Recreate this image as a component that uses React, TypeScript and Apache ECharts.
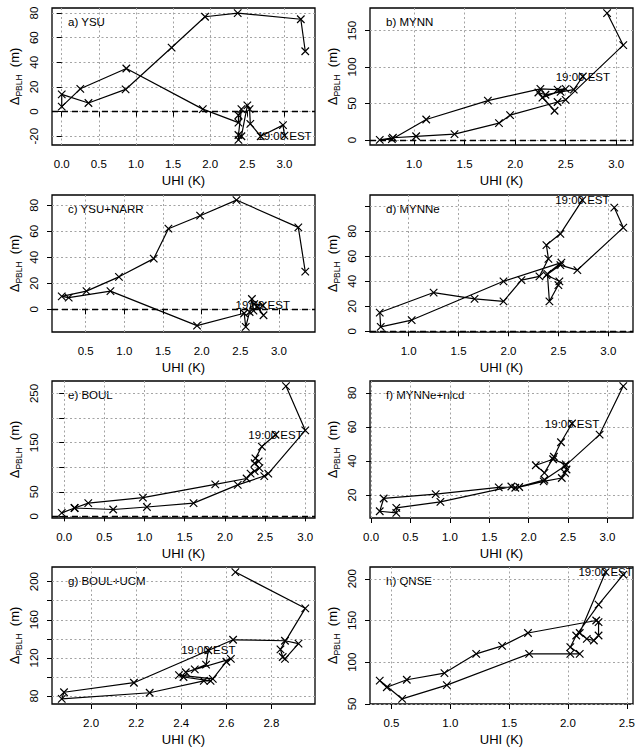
import React, { useEffect, useRef } from "react";
import * as echarts from "echarts";

const FONT = "'Liberation Sans', Arial, Helvetica, sans-serif";

const panelTitles = ["a) YSU", "b) MYNN", "c) YSU+NARR", "d) MYNNe", "e) BOUL", "f) MYNNe+nlcd", "g) BOUL+UCM", "h) QNSE"];
const startLabel = "19:00 EST";

// Trajectories (first point = 19:00 EST). UHI in K, ΔPBLH in m.
const uhiA = [3.00, 2.98, 2.68, 2.54, 2.53, 2.50, 2.42, 2.38, 2.38, 2.42, 2.38, 2.38, 1.90, 0.87, 0.25, 0.00, 0.00, 0.36, 0.86, 1.48, 1.93, 2.37, 3.22, 3.28];
const pblhA = [-19.5, -11, -20, -10, 2, 5, -20, -23, -19, 2, -3, -9, 2, 35, 18.5, 4, 14, 7, 18, 52, 77, 80, 75, 49];

const uhiB = [2.67, 2.58, 2.45, 2.30, 2.23, 2.39, 2.27, 2.50, 2.42, 2.25, 1.73, 1.12, 0.78, 0.66, 0.79, 1.02, 1.40, 1.84, 1.95, 2.42, 2.50, 3.07, 2.91];
const pblhB = [87, 69, 66, 62, 65, 40, 58, 70, 69, 70, 54, 28, 1, 0, 3, 5, 8, 23, 34, 52, 55, 130, 174];

const uhiC = [2.79, 2.68, 2.80, 2.72, 2.67, 2.65, 2.62, 2.57, 2.55, 1.94, 0.82, 0.28, 0.19, 0.51, 0.93, 1.38, 1.57, 1.98, 2.45, 3.25, 3.34];
const pblhC = [3, 4, -4.5, 2, -1, 8, -2, -13.5, -3, -12.5, 14, 9, 10, 14, 25, 39, 62, 72, 84, 63, 29];

const uhiD = [2.74, 2.52, 2.38, 2.40, 2.31, 2.13, 1.95, 1.66, 1.25, 0.71, 0.72, 1.03, 1.95, 2.53, 2.39, 2.41, 2.50, 2.51, 2.38, 2.52, 2.69, 3.15, 3.06];
const pblhD = [105, 78, 69, 58, 44, 41, 24, 26, 31, 15, 3.5, 9, 40, 55, 46, 24, 37, 40, 45, 53, 49, 83, 99];

const uhiE = [2.63, 2.46, 2.38, 2.42, 2.37, 2.43, 2.37, 2.32, 2.27, 1.88, 0.98, 0.30, 0.13, -0.03, 0.13, 0.61, 1.03, 1.61, 2.16, 2.49, 2.54, 3.00, 2.76];
const pblhE = [166, 142, 118, 112, 108, 98, 92, 87, 77, 65, 38, 27, 17, 7, 17, 14, 19, 27, 64, 82, 87, 175, 265];

const uhiF = [2.55, 2.41, 2.32, 2.20, 2.09, 2.31, 2.47, 2.48, 2.46, 2.42, 2.19, 1.88, 1.62, 0.82, 0.16, 0.11, 0.32, 0.32, 0.88, 1.78, 1.83, 2.20, 2.46, 2.90, 3.20];
const pblhF = [62, 51, 42.5, 33, 37.5, 41, 38, 35, 33, 30, 28, 24.7, 24.5, 20.5, 18, 10.5, 9.5, 12.5, 16, 25, 24.3, 29, 37, 55.5, 84];

const uhiG = [2.52, 2.51, 2.46, 2.42, 2.62, 2.60, 2.54, 2.39, 2.41, 2.53, 2.50, 2.26, 1.87, 1.88, 2.19, 2.63, 2.86, 2.92, 2.86, 2.85, 2.84, 2.95, 2.64];
const pblhG = [128, 113, 108, 105, 119, 116, 98, 102, 100, 96, 96, 83.5, 77, 84, 94, 139, 138, 135, 119, 121, 129, 172, 210];

const uhiH = [2.32, 2.10, 2.16, 2.22, 2.26, 2.26, 2.24, 1.66, 1.44, 1.22, 0.95, 0.63, 0.46, 0.40, 0.59, 0.97, 1.67, 2.02, 2.10, 2.02, 2.07, 2.26, 2.47];
const pblhH = [208, 135, 128, 126, 132, 148, 150, 135, 119.5, 110, 87, 79, 70, 78, 56, 72.5, 110, 110, 110, 118, 132, 169, 205];

// Axis ticks / labels
const xTicksA = [0, 0.5, 1, 1.5, 2, 2.5, 3];
const yTicksA = [-20, 0, 20, 40, 60, 80];
const yLabelsA = [-20, 0, 20, 40, 60, 80];
const xTicksB = [1, 1.5, 2, 2.5, 3];
const yTicksB = [0, 50, 100, 150];
const yLabelsB = [0, 50, 100, 150];
const xTicksC = [0.5, 1, 1.5, 2, 2.5, 3];
const yTicksC = [0, 20, 40, 60, 80];
const yLabelsC = [0, 20, 40, 60, 80];
const xTicksD = [1, 1.5, 2, 2.5, 3];
const yTicksD = [0, 20, 40, 60, 80, 100];
const yLabelsD = [0, 20, 40, 60, 80];
const xTicksE = [0, 0.5, 1, 1.5, 2, 2.5, 3];
const yTicksE = [0, 50, 100, 150, 200, 250];
const yLabelsE = [0, 50, 150, 250];
const xTicksF = [0, 0.5, 1, 1.5, 2, 2.5, 3];
const yTicksF = [20, 40, 60, 80];
const yLabelsF = [20, 40, 60, 80];
const xTicksG = [2, 2.2, 2.4, 2.6, 2.8];
const yTicksG = [80, 100, 120, 140, 160, 180, 200];
const yLabelsG = [80, 120, 160, 200];
const xTicksH = [0.5, 1, 1.5, 2, 2.5];
const yTicksH = [50, 100, 150, 200];
const yLabelsH = [50, 100, 150, 200];

const panels = [
  { x: uhiA, y: pblhA, xt: xTicksA, yt: yTicksA, yl: yLabelsA },
  { x: uhiB, y: pblhB, xt: xTicksB, yt: yTicksB, yl: yLabelsB },
  { x: uhiC, y: pblhC, xt: xTicksC, yt: yTicksC, yl: yLabelsC },
  { x: uhiD, y: pblhD, xt: xTicksD, yt: yTicksD, yl: yLabelsD },
  { x: uhiE, y: pblhE, xt: xTicksE, yt: yTicksE, yl: yLabelsE },
  { x: uhiF, y: pblhF, xt: xTicksF, yt: yTicksF, yl: yLabelsF },
  { x: uhiG, y: pblhG, xt: xTicksG, yt: yTicksG, yl: yLabelsG },
  { x: uhiH, y: pblhH, xt: xTicksH, yt: yTicksH, yl: yLabelsH },
];

const colLefts = [52, 370];
const rowTops = [8, 195, 381, 567];
const boxW = 263;
const boxH = 137;

const XSYM = "path://M0,0L10,10M10,0L0,10";

function rangeOf(v: number[]) {
  const lo = Math.min(...v);
  const hi = Math.max(...v);
  const e = (hi - lo) * 0.04;
  return [lo - e, hi + e];
}

export default function App() {
  const ref = useRef<HTMLDivElement>(null);
  useEffect(() => {
    if (!ref.current) return;
    const chart = echarts.init(ref.current, null, { renderer: "svg" });
    const grids: any[] = [];
    const xAxes: any[] = [];
    const yAxes: any[] = [];
    const series: any[] = [];
    const graphics: any[] = [];
    const gridLine = { show: true, lineStyle: { color: "#a4a4a4", type: [2, 2.5], width: 1 } };
    panels.forEach((p, i) => {
      const left = colLefts[i % 2];
      const top = rowTops[Math.floor(i / 2)];
      grids.push({ left, top, width: boxW, height: boxH, show: true, borderColor: "#000", borderWidth: 1.3, backgroundColor: "transparent" });
      const [xmin, xmax] = rangeOf(p.x);
      const [ymin, ymax] = rangeOf(p.y);
      xAxes.push({
        type: "value", gridIndex: i, min: xmin, max: xmax,
        axisLine: { show: false },
        axisTick: { show: true, inside: false, length: 5, lineStyle: { color: "#000", width: 1 }, customValues: p.xt },
        axisLabel: { customValues: p.xt, formatter: (v: number) => v.toFixed(1), fontSize: 11.5, color: "#000", margin: 13, fontFamily: FONT },
        splitLine: gridLine,
        name: "UHI (K)", nameLocation: "middle", nameGap: 29,
        nameTextStyle: { fontSize: 13, color: "#000", fontFamily: FONT },
      });
      yAxes.push({
        type: "value", gridIndex: i, min: ymin, max: ymax,
        axisLine: { show: false },
        axisTick: { show: true, inside: false, length: 5, lineStyle: { color: "#000", width: 1 }, customValues: p.yt },
        axisLabel: { customValues: p.yl, formatter: (v: number) => String(v), fontSize: 11.5, color: "#000", margin: 12, rotate: 90, fontFamily: FONT },
        splitLine: gridLine,
        name: "{d|Δ}{s|PBLH}{d|  (m)}", nameLocation: "middle", nameGap: 29, nameRotate: 90,
        nameTextStyle: {
          color: "#000", fontFamily: FONT,
          rich: {
            d: { fontSize: 13, color: "#000", fontFamily: FONT, verticalAlign: "top", lineHeight: 15 },
            s: { fontSize: 8.5, color: "#000", fontFamily: FONT, verticalAlign: "top", padding: [6, 0, 0, 0], lineHeight: 12 },
          },
        },
      });
      const data = p.x.map((xv, k) => {
        const item: any = { value: [xv, p.y[k]] };
        if (k === 0) {
          item.label = { show: true, position: "inside", formatter: startLabel, fontSize: 11.5, color: "#000", fontFamily: FONT };
        }
        return item;
      });
      const s: any = {
        type: "line", xAxisIndex: i, yAxisIndex: i, data,
        symbol: XSYM, symbolSize: 7.5, showAllSymbol: true,
        lineStyle: { color: "#000", width: 1.2 },
        itemStyle: { color: "#000", borderColor: "#000", borderWidth: 1.2 },
        emphasis: { disabled: true },
        label: { show: false },
      };
      if (ymin <= 0) {
        s.markLine = {
          silent: true, symbol: ["none", "none"], label: { show: false },
          lineStyle: { color: "#000", type: [6, 4], width: 1.3 },
          data: [{ yAxis: 0 }],
        };
      }
      series.push(s);
      graphics.push({
        type: "text", left: left + 16, top: top + 8,
        style: { text: panelTitles[i], fontSize: 11.5, fill: "#000", fontFamily: FONT },
      });
    });
    chart.setOption({
      animation: false,
      backgroundColor: "#fff",
      grid: grids,
      xAxis: xAxes,
      yAxis: yAxes,
      series,
      graphic: graphics,
    });
    return () => chart.dispose();
  }, []);
  return <div ref={ref} style={{ position: "absolute", left: 0, top: 0, width: 642, height: 750 }} />;
}
